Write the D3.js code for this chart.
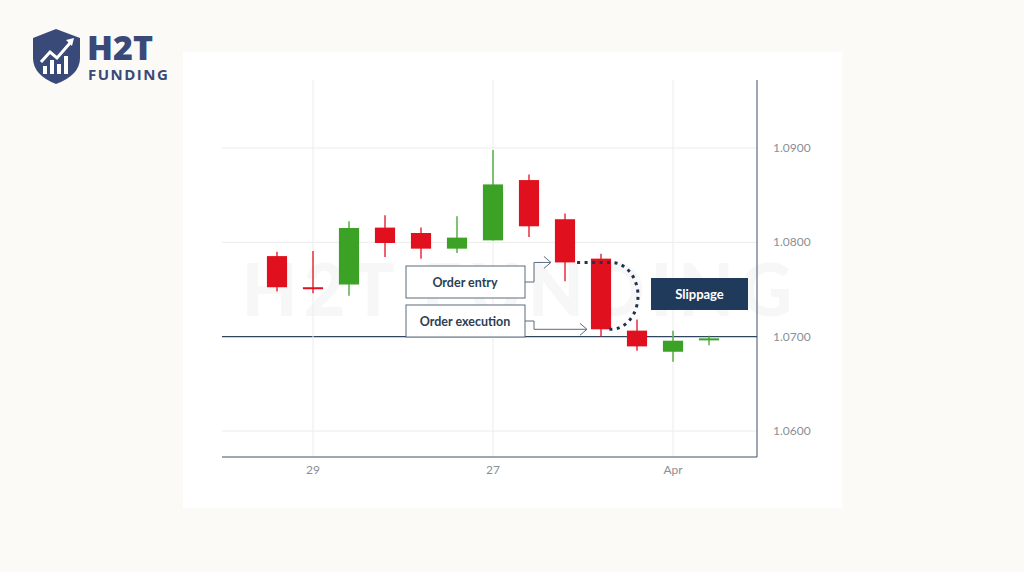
<!DOCTYPE html>
<html><head><meta charset="utf-8">
<script src="https://cdn.jsdelivr.net/npm/d3@7"></script>
<style>body{margin:0;background:#fbfaf7}svg{display:block}</style>
</head><body>
<script>
const dates = ['28a','29','29b','30a','30b','30c','27','27b','27c','27d','27e','Apr','Apr2']
const tickLabels = { 1: '29', 6: '27', 11: 'Apr' }
const opens  = [1.07854,1.07524,1.07553,1.08156,1.08099,1.07933,1.08021,1.08660,1.08245,1.07827,1.07064,1.06840,1.06965]
const closes = [1.07524,1.07503,1.08152,1.07993,1.07933,1.08050,1.08614,1.08170,1.07787,1.07078,1.06897,1.06957,1.06982]
const highs  = [1.07900,1.07907,1.08223,1.08287,1.08156,1.08277,1.08979,1.08720,1.08305,1.07880,1.07181,1.07064,1.07010]
const lows   = [1.07480,1.07461,1.07433,1.07844,1.07827,1.07886,1.08020,1.08056,1.07588,1.07000,1.06851,1.06734,1.06910]
const yTicks = [1.06,1.07,1.08,1.09]

const svg = d3.select('body').append('svg').attr('width',1024).attr('height',572)
  .style('font-family','Lato, "Open Sans", sans-serif')
svg.append('rect').attr('width',1024).attr('height',572).attr('fill','#fbfaf7')
svg.append('rect').attr('x',183).attr('y',52).attr('width',659).attr('height',456).attr('fill','#fff')

const x = d3.scaleBand().domain(d3.range(dates.length)).range([259,727]).paddingInner(0.44).paddingOuter(0.22)
const cx = i => x(i) + x.bandwidth()/2
const y = d3.scaleLinear().domain([1.06,1.09]).range([431,148])
const plotL = 222, plotR = 757, plotB = 457, plotT = 80

// watermark
svg.append('text').attr('x',520).attr('y',316).attr('text-anchor','middle')
  .attr('font-size',72).attr('font-weight',900).attr('fill','#f7f7f7').attr('letter-spacing',6)
  .text('H2T FUNDING')

// grid
const g = svg.append('g')
g.selectAll('.hg').data(yTicks).join('line')
  .attr('x1',plotL).attr('x2',plotR).attr('y1',y).attr('y2',y)
  .attr('stroke',d => d===1.07 ? '#2f4560' : '#ececec').attr('stroke-width',d => d===1.07?1.2:1)
g.selectAll('.vg').data(Object.keys(tickLabels).map(Number)).join('line')
  .attr('x1',cx).attr('x2',cx).attr('y1',plotT).attr('y2',plotB).attr('stroke','#ececec')

// axes
g.append('line').attr('x1',plotR).attr('x2',plotR).attr('y1',plotT).attr('y2',plotB).attr('stroke','#3d5068')
g.append('line').attr('x1',plotL).attr('x2',plotR).attr('y1',plotB).attr('y2',plotB).attr('stroke','#3d5068')
g.selectAll('.yl').data(yTicks).join('text')
  .attr('x',773).attr('y',d => y(d)+4).attr('font-size',12).attr('fill','#8a8f96')
  .text(d => d.toFixed(4))
g.selectAll('.xl').data(Object.entries(tickLabels)).join('text')
  .attr('x',d => cx(+d[0])).attr('y',474).attr('text-anchor','middle').attr('font-size',12).attr('fill','#8a8f96')
  .text(d => d[1])

// candles
const candles = svg.append('g').selectAll('g').data(dates.map((d,i) => i)).join('g')
candles.append('line').attr('x1',cx).attr('x2',cx).attr('y1',i => y(highs[i])).attr('y2',i => y(lows[i]))
  .attr('stroke',i => closes[i] >= opens[i] ? '#3ba226' : '#e0101e').attr('stroke-width',1.3)
candles.append('rect').attr('x',i => x(i)).attr('width',x.bandwidth())
  .attr('y',i => y(Math.max(opens[i],closes[i])))
  .attr('height',i => Math.max(2, Math.abs(y(opens[i])-y(closes[i]))))
  .attr('fill',i => closes[i] >= opens[i] ? '#3ba226' : '#e0101e')

// annotations
const ann = svg.append('g')
const entryY = y(closes[8]), execY = y(closes[9])
ann.append('path').attr('fill','none').attr('stroke','#1f3350').attr('stroke-width',3).attr('stroke-dasharray','3,4.5')
  .attr('d',`M${x(8)+x.bandwidth()+2},${entryY} L${cx(9)+10},${entryY} A27,${(execY-entryY)/2} 0 0 1 ${cx(9)+10},${execY} L${cx(9)+4},${execY}`)
const boxes = [{t:'Order entry',y:266,ty:entryY},{t:'Order execution',y:305,ty:execY}]
boxes.forEach((b,k) => {
  ann.append('rect').attr('x',406).attr('y',b.y).attr('width',119).attr('height',32)
    .attr('fill','#fff').attr('stroke','#5a6b7d').attr('stroke-width',1)
  ann.append('text').attr('x',465).attr('y',b.y+21).attr('text-anchor','middle')
    .attr('font-size',12.5).attr('font-weight',700).attr('fill','#2d3e52').text(b.t)
  const endX = k===0 ? x(8)-4 : x(9)-4
  ann.append('path').attr('fill','none').attr('stroke','#5a6b7d')
    .attr('d',`M525,${b.y+16} H534 V${b.ty} H${endX}`)
  ann.append('path').attr('fill','none').attr('stroke','#5a6b7d')
    .attr('d',`M${endX-7},${b.ty-6} L${endX},${b.ty} L${endX-7},${b.ty+6}`)
})
ann.append('rect').attr('x',651).attr('y',278).attr('width',97).attr('height',32).attr('fill','#1f3a5a')
ann.append('text').attr('x',699.5).attr('y',299).attr('text-anchor','middle')
  .attr('font-size',13).attr('font-weight',700).attr('fill','#fff').text('Slippage')

// logo
const logo = svg.append('g')
logo.append('path').attr('fill','#3a4a78')
  .attr('d','M56,29 L80,38 L80,58 Q80,75 56,84 Q33,75 33,58 L33,38 Z')
logo.append('path').attr('fill','none').attr('stroke','#fff').attr('stroke-width',3)
  .attr('d','M41,62 L50,52 L57,58 L70,43')
logo.append('path').attr('fill','#fff').attr('d','M66,40 L74,38 L72,46 Z')
;[[43,66,8],[50,60,14],[57,64,10],[64,56,18]].forEach(r =>
  logo.append('rect').attr('x',r[0]).attr('y',r[1]).attr('width',4).attr('height',r[2]).attr('fill','#fff'))
logo.append('text').attr('x',87).attr('y',60).attr('font-size',34).attr('font-weight',900)
  .attr('fill','#3a4a78').attr('font-family','"Open Sans", sans-serif').text('H2T')
logo.append('text').attr('x',88).attr('y',80).attr('font-size',15).attr('font-weight',700)
  .attr('letter-spacing',1.5).attr('fill','#3a4a78').attr('font-family','"Open Sans", sans-serif').text('FUNDING')
</script>
</body></html>
